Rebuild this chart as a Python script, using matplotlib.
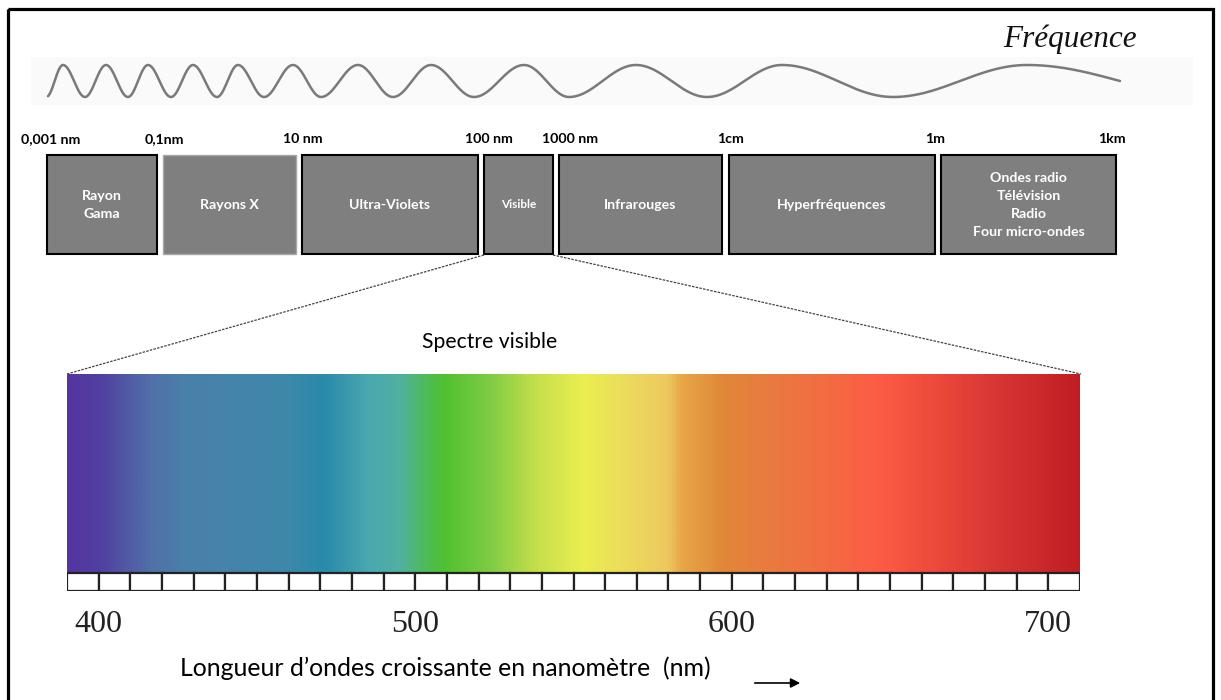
import numpy as np
import matplotlib
matplotlib.use("Agg")
import matplotlib.pyplot as plt
from matplotlib.colors import LinearSegmentedColormap
from matplotlib.patches import Rectangle

W, H = 1221, 700

# Electromagnetic spectrum bands (schematic, in picture pixels)
band_labels = ["Rayon\nGama", "Rayons X", "Ultra-Violets", "Visible", "Infrarouges",
               "Hyperfréquences", "Ondes radio\nTélévision\nRadio\nFour micro-ondes"]
band_left = [47, 163, 302, 484, 559, 729, 941]
band_right = [157, 296, 478, 553, 722, 935, 1116]
bound_labels = ["0,001 nm", "0,1nm", "10 nm", "100 nm", "1000 nm", "1cm", "1m", "1km"]
bound_x = [51, 164, 303, 489, 570, 731, 935, 1112]

# Wave above the bands: x of successive extrema (peak, trough, ...) in half-cycles
wave_x = [48, 63, 85, 106, 128, 148, 171, 193, 217, 238, 264, 293, 321, 358, 393,
          431, 474, 524, 569, 636, 707, 782, 893, 1027, 1120]
wave_half = [-0.9] + list(range(0, 23)) + [22.5]

# Visible spectrum colour stops (nm)
spec_nm = [390, 400, 416, 427, 458, 471, 485, 495, 502, 509, 524, 539, 553, 566,
           580, 584, 597, 613, 632, 647, 663, 684, 705, 710]
spec_colors = ["#5535a0", "#5040a0", "#5070a8", "#4a80aa", "#3f88ab", "#2a8aaa",
               "#4aa8b0", "#50b0a0", "#4dbb60", "#50c030", "#80cc44", "#c8e04c",
               "#eaee50", "#ecdc5c", "#eec860", "#e8a848", "#e08838", "#ea7a40",
               "#f46a42", "#fc5c44", "#ee4c3c", "#d83634", "#c42226", "#c01e22"]
nm_ticks = [400, 500, 600, 700]
cell_nm = 10

SANS = ["Lato", "DejaVu Sans"]
SERIF = ["Liberation Serif", "DejaVu Serif"]

fig = plt.figure(figsize=(W / 100, H / 100), dpi=100)
ax = fig.add_axes([0, 0, 1, 1])
ax.set_xlim(0, W)
ax.set_ylim(H, 0)
ax.axis("off")

# outer frame
ax.add_patch(Rectangle((7.5, 8.5), 1213 - 7.5, 720, fill=False, ec="black", lw=2.3,
                       clip_on=False))

# wave strip
ax.add_patch(Rectangle((31, 57), 1162, 48, fc="#fafafa", ec="none"))
xs = np.linspace(wave_x[0], wave_x[-1], 3000)
phase = np.interp(xs, wave_x, wave_half) * np.pi
ax.plot(xs, 81 - 16 * np.cos(phase), color="#7a7a7a", lw=1.8, solid_capstyle="round")
ax.text(1003, 47, "Fréquence", family=SERIF, style="italic", fontsize=22.5,
        color="#111111", ha="left", va="baseline")

# bands
for lab, l, r in zip(band_labels, band_left, band_right):
    light = lab == "Rayons X"
    ax.add_patch(Rectangle((l, 155), r - l, 99, fc="#7f7f7f",
                           ec="#a8a8a8" if light else "black", lw=1.0 if light else 1.5))
    ax.text((l + r) / 2, 205, lab, family=SANS, weight="bold",
            fontsize=8.5 if lab == "Visible" else 10.2, color="white",
            ha="center", va="center", linespacing=1.6, multialignment="center")
for lab, x in zip(bound_labels, bound_x):
    ax.text(x, 139, lab, family=SANS, weight="bold", fontsize=10.2, color="black",
            ha="center", va="center")

# zoom lines from the visible band to the spectrum
vis = band_labels.index("Visible")
ax.plot([band_left[vis], 67], [255, 374], color="#444444", lw=0.9, ls=(0, (2, 1)))
ax.plot([band_right[vis], 1081], [255, 374], color="#444444", lw=0.9, ls=(0, (2, 1)))

ax.text(422, 342, "Spectre visible", family=SANS, fontsize=15.2, color="black",
        ha="left", va="center")
ax.text(180, 668, "Longueur d\u2019ondes croissante en nanomètre  (nm)", family=SANS,
        fontsize=17.9, color="black", ha="left", va="center")
ax.annotate("", xy=(803, 683), xytext=(752, 683),
            arrowprops=dict(arrowstyle="-|>", color="black", lw=1.2, mutation_scale=14))

# visible spectrum
cmap = LinearSegmentedColormap.from_list(
    "vis", [((n - spec_nm[0]) / (spec_nm[-1] - spec_nm[0]), c)
            for n, c in zip(spec_nm, spec_colors)])
ax2 = fig.add_axes([67 / W, 1 - 591 / H, (1080 - 67) / W, (591 - 374) / H])
ax2.set_xlim(spec_nm[0], spec_nm[-1])
ax2.set_ylim(591, 374)
grad = np.linspace(0, 1, 1024)[None, :]
ax2.imshow(grad, cmap=cmap, aspect="auto", extent=(spec_nm[0], spec_nm[-1], 572, 374))
for n in np.arange(spec_nm[0], spec_nm[-1], cell_nm):
    ax2.add_patch(Rectangle((n, 573), cell_nm, 18, fc="white", ec="#222222", lw=1.6))
for s in ax2.spines.values():
    s.set_visible(False)
ax2.set_yticks([])
ax2.set_xticks(nm_ticks)
ax2.set_xticklabels([str(t) for t in nm_ticks], family=SERIF, fontsize=23, color="#222222")
ax2.tick_params(axis="x", length=0, pad=14)

fig.savefig("out.png", dpi=100)
